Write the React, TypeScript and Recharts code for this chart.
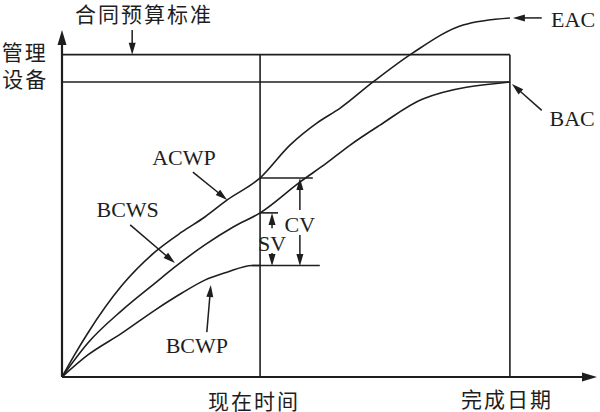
import React from 'react';
import { ComposedChart, Line, XAxis, YAxis, ReferenceLine, ReferenceDot } from 'recharts';

// Curves (x: time units, y: cost units)
const acwp = [
  { x: 0, y: 0 }, { x: 2.4, y: 7.2 }, { x: 5.2, y: 15.0 }, { x: 12.1, y: 31.3 }, { x: 18.7, y: 42.6 },
  { x: 24.1, y: 49.4 }, { x: 28.7, y: 54.5 }, { x: 33.2, y: 60.3 }, { x: 39.8, y: 67.8 },
  { x: 45.8, y: 79.0 }, { x: 51.2, y: 86.5 }, { x: 55.9, y: 91.6 }, { x: 62.5, y: 100.5 },
  { x: 70.5, y: 110.4 }, { x: 80.6, y: 119.9 }, { x: 90.0, y: 122.3 },
];
const bcws = [
  { x: 0, y: 0 }, { x: 5.2, y: 11.6 }, { x: 12.1, y: 22.8 }, { x: 18.7, y: 32.0 }, { x: 22.7, y: 37.5 },
  { x: 28.7, y: 45.0 }, { x: 34.4, y: 51.1 }, { x: 39.8, y: 55.9 }, { x: 47.8, y: 66.4 },
  { x: 53.2, y: 72.9 }, { x: 57.9, y: 79.0 }, { x: 63.9, y: 85.8 }, { x: 72.5, y: 94.7 },
  { x: 90.0, y: 100.5 },
];
const bcwp = [
  { x: 0, y: 0 }, { x: 5.2, y: 7.5 }, { x: 12.1, y: 15.0 }, { x: 18.7, y: 22.8 }, { x: 24.1, y: 28.6 },
  { x: 28.7, y: 33.0 }, { x: 33.0, y: 35.6 }, { x: 38.2, y: 38.0 }, { x: 39.8, y: 38.0 },
];

// Plain reference lines (data units)
const frameLines = [
  { x1: 0, y1: 109.8, x2: 90, y2: 109.8 },
  { x1: 0, y1: 100.5, x2: 90, y2: 100.5 },
  { x1: 39.8, y1: 0, x2: 39.8, y2: 109.8 },
  { x1: 90, y1: 0, x2: 90, y2: 109.8 },
  { x1: 39.8, y1: 67.8, x2: 50.4, y2: 67.8 },
  { x1: 39.8, y1: 55.9, x2: 43.4, y2: 55.9 },
  { x1: 38.2, y1: 38.0, x2: 51.8, y2: 38.0 },
];
const axisArrows = [
  { x1: 0, y1: 0, x2: 0, y2: 118.2 },
  { x1: 0, y1: 0, x2: 107.5, y2: 0 },
];
const pointerArrows = [
  { x1: 14.1, y1: 118.2, x2: 14.1, y2: 109.8 },
  { x1: 96.4, y1: 122.3, x2: 90.6, y2: 122.3 },
  { x1: 96.4, y1: 90.8, x2: 90.4, y2: 99.8 },
  { x1: 26.3, y1: 69.8, x2: 33.2, y2: 60.3 },
  { x1: 13.7, y1: 51.8, x2: 22.7, y2: 38.8 },
  { x1: 29.1, y1: 15.3, x2: 29.9, y2: 31.3 },
  { x1: 47.8, y1: 56.9, x2: 47.8, y2: 67.8 },
  { x1: 47.8, y1: 48.4, x2: 47.8, y2: 37.8 },
  { x1: 42.2, y1: 50.7, x2: 42.2, y2: 55.9 },
  { x1: 42.2, y1: 42.2, x2: 42.2, y2: 37.8 },
];

const cjkLabels = [
  { x: 16.5, y: 124.0, text: '合同预算标准' },
  { x: -7.5, y: 111.2, text: '管理' },
  { x: -7.4, y: 102.0, text: '设备' },
  { x: 38.6, y: -7.8, text: '现在时间' },
  { x: 89.4, y: -7.2, text: '完成日期' },
];
const latinLabels = [
  { x: 102.7, y: 121.9, text: 'EAC' },
  { x: 102.5, y: 88.0, text: 'BAC' },
  { x: 24.5, y: 74.9, text: 'ACWP' },
  { x: 13.2, y: 56.9, text: 'BCWS' },
  { x: 27.1, y: 10.6, text: 'BCWP' },
  { x: 47.8, y: 52.1, text: 'CV' },
  { x: 42.2, y: 45.6, text: 'SV' },
];

const INK = '#1e1e1e';

const makeArrowShape = (width: number, headLen: number, headHalf: number) => (props: any) => {
  const { x1, y1, x2, y2 } = props;
  const dx = x2 - x1;
  const dy = y2 - y1;
  const len = Math.sqrt(dx * dx + dy * dy) || 1;
  const ux = dx / len;
  const uy = dy / len;
  const bx = x2 - ux * headLen;
  const by = y2 - uy * headLen;
  const px = -uy * headHalf;
  const py = ux * headHalf;
  return (
    <g>
      <line x1={x1} y1={y1} x2={bx + ux * 1} y2={by + uy * 1} stroke={INK} strokeWidth={width} />
      <polygon points={`${x2},${y2} ${bx + px},${by + py} ${bx - px},${by - py}`} fill={INK} />
    </g>
  );
};

const plainShape = (props: any) => {
  const { x1, y1, x2, y2 } = props;
  return <line x1={x1} y1={y1} x2={x2} y2={y2} stroke={INK} strokeWidth={1.6} />;
};

const textShape = (text: string, cjk: boolean) => (props: any) => {
  const { cx, cy } = props;
  return (
    <text
      x={cx}
      y={cy}
      textAnchor="middle"
      dominantBaseline="central"
      fill={INK}
      fontSize={cjk ? 21 : 22}
      letterSpacing={cjk ? 2 : 0}
      fontFamily={cjk ? '"Noto Sans CJK SC", sans-serif' : '"Liberation Serif", "DejaVu Serif", serif'}
    >
      {text}
    </text>
  );
};

export default function App() {
  return (
    <div style={{ position: 'absolute', left: 0, top: 0, width: 600, height: 412, background: '#fff' }}>
      <ComposedChart width={600} height={412} margin={{ top: 10, right: 3, bottom: 35, left: 62 }}>
        <XAxis type="number" dataKey="x" domain={[0, 107.5]} hide allowDataOverflow />
        <YAxis type="number" dataKey="y" domain={[0, 125]} hide allowDataOverflow />
        {frameLines.map((s, i) => (
          <ReferenceLine
            key={`f${i}`}
            segment={[{ x: s.x1, y: s.y1 }, { x: s.x2, y: s.y2 }]}
            ifOverflow="visible"
            shape={plainShape}
          />
        ))}
        {axisArrows.map((s, i) => (
          <ReferenceLine
            key={`a${i}`}
            segment={[{ x: s.x1, y: s.y1 }, { x: s.x2, y: s.y2 }]}
            ifOverflow="visible"
            shape={makeArrowShape(2.2, 15, 4.5)}
          />
        ))}
        {pointerArrows.map((s, i) => (
          <ReferenceLine
            key={`p${i}`}
            segment={[{ x: s.x1, y: s.y1 }, { x: s.x2, y: s.y2 }]}
            ifOverflow="visible"
            shape={makeArrowShape(1.5, 12, 3.5)}
          />
        ))}
        <Line data={acwp} dataKey="y" type="monotone" stroke={INK} strokeWidth={1.6} dot={false} isAnimationActive={false} />
        <Line data={bcws} dataKey="y" type="monotone" stroke={INK} strokeWidth={1.6} dot={false} isAnimationActive={false} />
        <Line data={bcwp} dataKey="y" type="monotone" stroke={INK} strokeWidth={1.6} dot={false} isAnimationActive={false} />
        {cjkLabels.map((l, i) => (
          <ReferenceDot key={`c${i}`} x={l.x} y={l.y} r={0} ifOverflow="visible" shape={textShape(l.text, true)} />
        ))}
        {latinLabels.map((l, i) => (
          <ReferenceDot key={`l${i}`} x={l.x} y={l.y} r={0} ifOverflow="visible" shape={textShape(l.text, false)} />
        ))}
      </ComposedChart>
    </div>
  );
}
